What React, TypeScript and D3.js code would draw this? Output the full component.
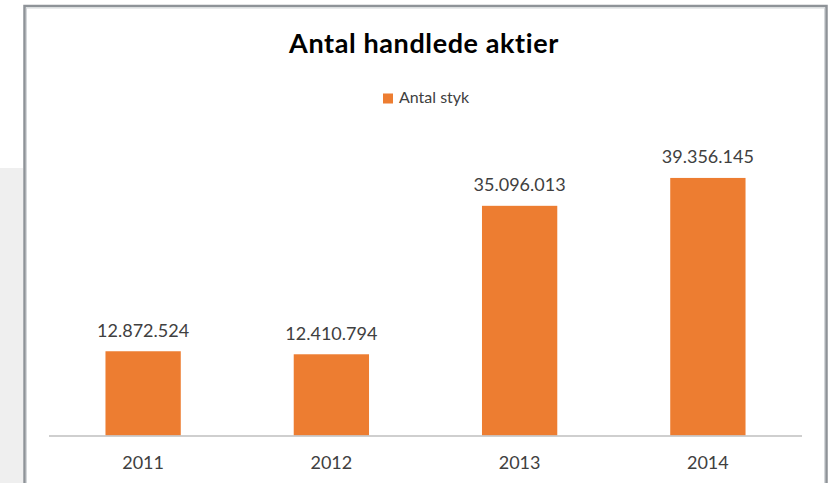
import { useEffect, useRef } from 'react'
import * as d3 from 'd3'

const years = ['2011', '2012', '2013', '2014']
const antalStyk = [12872524, 12410794, 35096013, 39356145]
const seriesName = 'Antal styk'
const title = 'Antal handlede aktier'

const W = 836, H = 483
const FONT = 'Lato, "Open Sans", sans-serif'
const ORANGE = '#ED7D31'

const fmt = (v: number) => d3.format(',')(v).replace(/,/g, '.')

export default function App() {
  const svgRef = useRef<SVGSVGElement>(null)

  useEffect(() => {
    const svg = d3.select(svgRef.current)
    svg.selectAll('*').remove()

    // baggrund (slide)
    svg.append('rect').attr('width', W).attr('height', H).attr('fill', '#fff')
    svg.append('rect').attr('x', 0).attr('y', 168).attr('width', 23).attr('height', H - 168).attr('fill', '#efefef')

    // ramme
    svg.append('rect')
      .attr('x', 24.5).attr('y', 6).attr('width', 802).attr('height', H)
      .attr('fill', '#fff').attr('stroke', '#8e9398').attr('stroke-width', 2.5)
    svg.append('rect')
      .attr('x', 26.5).attr('y', 8).attr('width', 798).attr('height', H)
      .attr('fill', 'none').attr('stroke', '#d4d7da').attr('stroke-width', 1)

    const x = d3.scaleBand<string>()
      .domain(years)
      .range([49, 802])
      .paddingInner(0.6)
      .paddingOuter(0.3)

    const y = d3.scaleLinear().domain([0, 45000000]).range([435.5, 141])

    // titel
    svg.append('text')
      .attr('x', 424).attr('y', 53)
      .attr('text-anchor', 'middle')
      .attr('font-family', FONT).attr('font-weight', 700).attr('font-size', 27)
      .attr('letter-spacing', 0.6)
      .style('font-variant-ligatures', 'none')
      .attr('fill', '#000')
      .text(title)

    // legende
    svg.append('rect').attr('x', 383).attr('y', 93.5).attr('width', 10).attr('height', 10).attr('fill', ORANGE)
    svg.append('text')
      .attr('x', 399).attr('y', 103)
      .attr('font-family', FONT).attr('font-size', 16).attr('fill', '#404040')
      .text(seriesName)

    // søjler
    svg.selectAll('rect.bar')
      .data(antalStyk)
      .join('rect')
      .attr('class', 'bar')
      .attr('x', (_, i) => x(years[i])!)
      .attr('y', (d) => y(d))
      .attr('width', x.bandwidth())
      .attr('height', (d) => y(0) - y(d))
      .attr('fill', ORANGE)

    // dataetiketter
    svg.selectAll('text.lbl')
      .data(antalStyk)
      .join('text')
      .attr('class', 'lbl')
      .attr('x', (_, i) => x(years[i])! + x.bandwidth() / 2)
      .attr('y', (d) => y(d) - 14.5)
      .attr('text-anchor', 'middle')
      .attr('font-family', FONT).attr('font-size', 18).attr('fill', '#404040')
      .text((d) => fmt(d))

    // x-akse
    svg.append('line')
      .attr('x1', 49).attr('x2', 802)
      .attr('y1', y(0) + 0.5).attr('y2', y(0) + 0.5)
      .attr('stroke', '#bfbfbf').attr('stroke-width', 1.5)

    svg.selectAll('text.cat')
      .data(years)
      .join('text')
      .attr('class', 'cat')
      .attr('x', (d) => x(d)! + x.bandwidth() / 2)
      .attr('y', 469)
      .attr('text-anchor', 'middle')
      .attr('font-family', FONT).attr('font-size', 18).attr('fill', '#404040')
      .text((d) => d)
  }, [])

  return (
    <svg
      ref={svgRef}
      width={W}
      height={H}
      style={{ position: 'absolute', left: 0, top: 0, display: 'block' }}
    />
  )
}
